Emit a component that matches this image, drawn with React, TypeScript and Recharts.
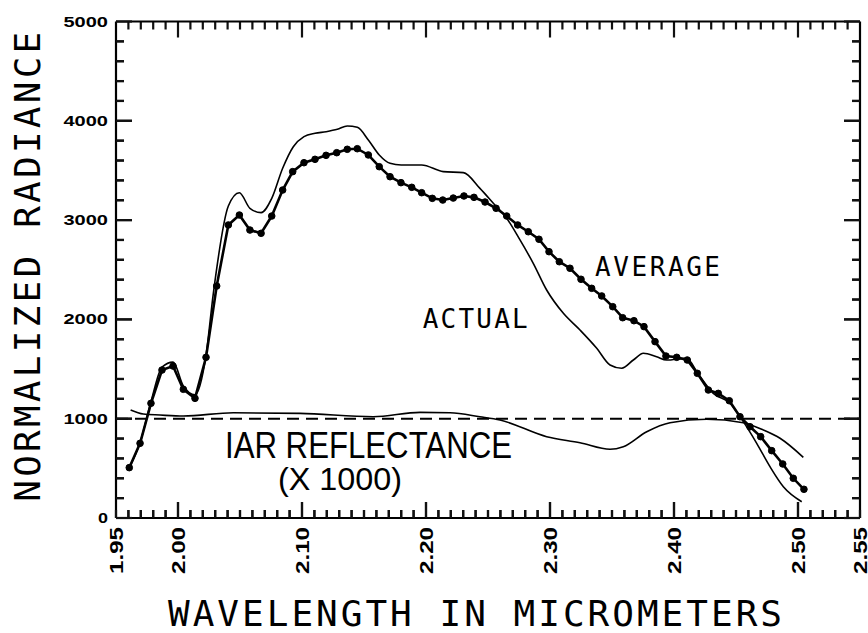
import React from 'react';
import { LineChart, Line, XAxis, YAxis, ReferenceLine } from 'recharts';

// ---- Axis configuration ----
const X_DOMAIN: [number, number] = [1.95, 2.55];
const Y_DOMAIN: [number, number] = [0, 5000];
const X_TICK_LABELS = [1.95, 2.0, 2.1, 2.2, 2.3, 2.4, 2.5, 2.55];
const Y_TICK_LABELS = [0, 1000, 2000, 3000, 4000, 5000];
const X_MINOR_COUNT = 61; // every 0.01 micrometer
const Y_MINOR_COUNT = 26; // every 200

// ---- Series: AVERAGE (with dots) ----
const averageWavelength = [
  1.9607, 1.9694, 1.9782, 1.9871, 1.996, 2.0043, 2.0137, 2.0226, 2.0312, 2.0406,
  2.0495, 2.058, 2.067, 2.0756, 2.0844, 2.0925, 2.1016, 2.1105, 2.1194, 2.128,
  2.1365, 2.1446, 2.1535, 2.1623, 2.171, 2.1798, 2.1885, 2.1965, 2.2051, 2.2135,
  2.222, 2.2306, 2.2387, 2.2476, 2.2565, 2.2651, 2.2739, 2.2825, 2.2911, 2.2992,
  2.3075, 2.3161, 2.325, 2.3336, 2.3417, 2.3506, 2.3586, 2.3677, 2.3758, 2.3847,
  2.3935, 2.4022, 2.4107, 2.4188, 2.4277, 2.4357, 2.4446, 2.4532, 2.4613, 2.4699,
  2.4788, 2.4877, 2.4962, 2.5048,
];
const averageRadiance = [
  507, 752, 1155, 1490, 1530, 1296, 1205, 1618, 2336, 2951,
  3051, 2900, 2867, 3041, 3303, 3488, 3578, 3612, 3652, 3679,
  3713, 3719, 3656, 3538, 3437, 3377, 3330, 3276, 3219, 3202,
  3222, 3243, 3229, 3182, 3119, 3041, 2951, 2883, 2807, 2682,
  2581, 2515, 2404, 2313, 2236, 2128, 2017, 1987, 1927, 1776,
  1631, 1618, 1591, 1457, 1289, 1255, 1181, 1020, 919, 819,
  678, 544, 400, 289,
];

// ---- Series: ACTUAL ----
const actualWavelength = [
  1.9607, 1.9694, 1.9782, 1.9871, 1.996, 2.0043, 2.0137, 2.0226, 2.0285, 2.0406,
  2.0495, 2.058, 2.067, 2.0756, 2.0844, 2.093, 2.1016, 2.1105, 2.1194, 2.1285,
  2.1365, 2.1446, 2.1535, 2.1623, 2.171, 2.18, 2.1965, 2.2139, 2.2301, 2.2435,
  2.2543, 2.2651, 2.2758, 2.2865, 2.2973, 2.3108, 2.3242, 2.3377, 2.3484, 2.3578,
  2.3672, 2.3753, 2.386, 2.394, 2.4102, 2.419, 2.4317, 2.4452, 2.4559, 2.4667,
  2.4774, 2.4882, 2.503,
];
const actualRadiance = [
  507, 760, 1170, 1520, 1570, 1330, 1240, 1640, 2263, 3142,
  3276, 3119, 3075, 3219, 3522, 3739, 3840, 3874, 3890, 3914,
  3948, 3934, 3807, 3656, 3572, 3555, 3555, 3488, 3478, 3320,
  3170, 3018, 2800, 2565, 2296, 2061, 1893, 1709, 1541, 1508,
  1591, 1659, 1624, 1591, 1608, 1460, 1255, 1155, 970, 752,
  517, 315, 164,
];

// ---- Series: IAR REFLECTANCE (x 1000) ----
const reflWavelength = [
  1.9618, 1.972, 1.9855, 2.0043, 2.0446, 2.0984, 2.1575, 2.1952, 2.2194, 2.2435,
  2.2597, 2.2973, 2.3242, 2.3484, 2.3591, 2.378, 2.3968, 2.4263, 2.4559, 2.4721,
  2.4855, 2.5043,
];
const reflValue = [
  1088, 1047, 1037, 1027, 1060, 1054, 1020, 1064, 1060, 1020,
  987, 819, 758, 692, 718, 869, 960, 994, 960, 886,
  803, 611,
];

const REFERENCE_LEVEL = 1000;

// ---- Annotations (anchor = left end of baseline, in data units) ----
const ANNOTATIONS = [
  { text: 'AVERAGE', w: 2.3363, v: 2437, kind: 'mono', size: 26, len: 125 },
  { text: 'ACTUAL', w: 2.1973, v: 1913, kind: 'mono', size: 26, len: 105 },
  { text: 'IAR REFLECTANCE', w: 2.0379, v: 601, kind: 'sans', size: 36, len: 287 },
  { text: '(X 1000)', w: 2.0806, v: 282, kind: 'sans', size: 32, len: 124 },
];

const averageData = averageWavelength.map((w, i) => ({ w, v: averageRadiance[i] }));
const actualData = actualWavelength.map((w, i) => ({ w, v: actualRadiance[i] }));
const reflData = reflWavelength.map((w, i) => ({ w, v: reflValue[i] }));

const xTicks = Array.from({ length: X_MINOR_COUNT }, (_, i) => (195 + i) / 100);
const yTicks = Array.from({ length: Y_MINOR_COUNT }, (_, i) => i * 200);

const MONO = '"DejaVu Sans Mono", monospace';
const SANS = '"Liberation Sans", Arial, sans-serif';

// ---- Layout ----
const W = 868;
const H = 633;
const M_TOP = 20;
const TOP_AXIS_H = 1.5;
const LEFT_AXIS_W = 116;
const RIGHT_AXIS_W = 8;
const BOTTOM_AXIS_H = 115;
const PLOT_LEFT = LEFT_AXIS_W;
const PLOT_RIGHT = W - RIGHT_AXIS_W;
const PLOT_TOP = M_TOP + TOP_AXIS_H;
const PLOT_BOTTOM = H - BOTTOM_AXIS_H;
const toPx = (w: number) =>
  PLOT_LEFT + ((w - X_DOMAIN[0]) / (X_DOMAIN[1] - X_DOMAIN[0])) * (PLOT_RIGHT - PLOT_LEFT);
const toPy = (v: number) =>
  PLOT_BOTTOM - ((v - Y_DOMAIN[0]) / (Y_DOMAIN[1] - Y_DOMAIN[0])) * (PLOT_BOTTOM - PLOT_TOP);

const MAJOR = 16;
const MINOR = 8;
const TW = 2.2; // tick thickness
const TICK_COLOR = '#111';
const AXIS_LINE = { stroke: '#000', strokeWidth: 2.2 };

// tick lengths expressed in data units of the perpendicular axis (for segment ticks)
const X_LEN_MINOR = (MINOR / (PLOT_BOTTOM - PLOT_TOP)) * (Y_DOMAIN[1] - Y_DOMAIN[0]);
const X_LEN_MAJOR = (MAJOR / (PLOT_BOTTOM - PLOT_TOP)) * (Y_DOMAIN[1] - Y_DOMAIN[0]);
const Y_LEN_MINOR = (MINOR / (PLOT_RIGHT - PLOT_LEFT)) * (X_DOMAIN[1] - X_DOMAIN[0]);
const Y_LEN_MAJOR = (MAJOR / (PLOT_RIGHT - PLOT_LEFT)) * (X_DOMAIN[1] - X_DOMAIN[0]);

const isMajorX = (v: number) => Math.round(v * 100) % 10 === 0;
const isMajorY = (v: number) => Math.round(v) % 1000 === 0;
const hasXLabel = (v: number) => X_TICK_LABELS.some((l) => Math.abs(l - v) < 1e-6);
const hasYLabel = (v: number) => Y_TICK_LABELS.some((l) => Math.abs(l - v) < 1e-6);

const renderBottomTick = (props: any) => {
  const x = Number(props.x);
  const y = Number(props.y);
  const v = props.payload.value as number;
  const len = isMajorX(v) ? MAJOR : MINOR;
  return (
    <g key={`b${v}`}>
      <rect x={x - TW / 2} y={y - len} width={TW} height={len} fill={TICK_COLOR} />
      {hasXLabel(v) && (
        <text
          transform={`translate(${x + 6.5},${y + 9}) rotate(-90)`}
          x={-47}
          y={0}
          textAnchor="start"
          textLength={47}
          lengthAdjust="spacingAndGlyphs"
          fontFamily={SANS}
          fontWeight={700}
          fontSize={18}
          fill="#000"
        >
          {v.toFixed(2)}
        </text>
      )}
    </g>
  );
};

const renderTopTick = (props: any) => {
  const x = Number(props.x);
  const y = Number(props.y);
  const v = props.payload.value as number;
  const len = isMajorX(v) ? MAJOR : MINOR;
  return (
    <g key={`t${v}`}>
      <rect x={x - TW / 2} y={y} width={TW} height={len} fill={TICK_COLOR} />
    </g>
  );
};

const renderLeftTick = (props: any) => {
  const x = Number(props.x);
  const y = Number(props.y);
  const v = props.payload.value as number;
  const len = isMajorY(v) ? MAJOR : MINOR;
  const label = String(v);
  const w = 11.5 * label.length - 1.5;
  return (
    <g key={`l${v}`}>
      <rect x={x} y={y - TW / 2} width={len} height={TW} fill={TICK_COLOR} />
      {hasYLabel(v) && (
        <text
          x={x - 8 - w}
          y={y + 5}
          textAnchor="start"
          textLength={w}
          lengthAdjust="spacingAndGlyphs"
          fontFamily={SANS}
          fontWeight={700}
          fontSize={14}
          fill="#000"
        >
          {label}
        </text>
      )}
    </g>
  );
};

const renderRightTick = (props: any) => {
  const x = Number(props.x);
  const y = Number(props.y);
  const v = props.payload.value as number;
  const len = isMajorY(v) ? MAJOR : MINOR;
  return (
    <g key={`r${v}`}>
      <rect x={x - len} y={y - TW / 2} width={len} height={TW} fill={TICK_COLOR} />
    </g>
  );
};

// segment ticks (same marks, drawn through the chart's scales as reference segments)
const innerXTicks = xTicks.filter((v) => v > X_DOMAIN[0] + 1e-6 && v < X_DOMAIN[1] - 1e-6);
const innerYTicks = yTicks.filter((v) => v > Y_DOMAIN[0] && v < Y_DOMAIN[1]);
const tickSegments: { key: string; seg: { x: number; y: number }[] }[] = [];
innerXTicks.forEach((v) => {
  const len = isMajorX(v) ? X_LEN_MAJOR : X_LEN_MINOR;
  tickSegments.push({ key: `xb${v}`, seg: [{ x: v, y: Y_DOMAIN[0] }, { x: v, y: Y_DOMAIN[0] + len }] });
  tickSegments.push({ key: `xt${v}`, seg: [{ x: v, y: Y_DOMAIN[1] }, { x: v, y: Y_DOMAIN[1] - len }] });
});
innerYTicks.forEach((v) => {
  const len = isMajorY(v) ? Y_LEN_MAJOR : Y_LEN_MINOR;
  tickSegments.push({ key: `yl${v}`, seg: [{ x: X_DOMAIN[0], y: v }, { x: X_DOMAIN[0] + len, y: v }] });
  tickSegments.push({ key: `yr${v}`, seg: [{ x: X_DOMAIN[1], y: v }, { x: X_DOMAIN[1] - len, y: v }] });
});

function TextOverlay() {
  const xTitleLen = 614;
  const xTitleCx = (PLOT_LEFT + PLOT_RIGHT) / 2 - 13;
  const yTitleLen = 470;
  const yTitleCy = (PLOT_TOP + PLOT_BOTTOM) / 2 - 3;
  return (
    <svg
      width={W}
      height={H}
      style={{ position: 'absolute', left: 0, top: 0, pointerEvents: 'none' }}
    >
      <text
        x={xTitleCx - xTitleLen / 2}
        y={PLOT_BOTTOM + 108}
        textLength={xTitleLen}
        lengthAdjust="spacing"
        fontFamily={MONO}
        fontSize={36}
        fill="#000"
      >
        WAVELENGTH IN MICROMETERS
      </text>
      <text
        transform={`translate(40,${yTitleCy}) rotate(-90)`}
        x={-yTitleLen / 2}
        y={0}
        textLength={yTitleLen}
        lengthAdjust="spacing"
        fontFamily={MONO}
        fontSize={36}
        fill="#000"
      >
        NORMALIZED RADIANCE
      </text>
      {ANNOTATIONS.map((a) => (
        <text
          key={a.text}
          x={toPx(a.w)}
          y={toPy(a.v)}
          textLength={a.len}
          lengthAdjust={a.kind === 'sans' ? 'spacingAndGlyphs' : 'spacing'}
          fontFamily={a.kind === 'sans' ? SANS : MONO}
          fontSize={a.size}
          fill="#000"
        >
          {a.text}
        </text>
      ))}
    </svg>
  );
}

export default function App() {
  return (
    <div style={{ position: 'absolute', left: 0, top: 0, width: W, height: H, background: '#fff' }}>
      <LineChart width={W} height={H} margin={{ top: M_TOP, right: 0, bottom: 0, left: 0 }}>
        <XAxis
          xAxisId="b"
          type="number"
          dataKey="w"
          domain={X_DOMAIN}
          allowDataOverflow
          ticks={xTicks}
          interval={0}
          tickSize={0}
          tickMargin={0}
          tickLine={false}
          tick={renderBottomTick}
          axisLine={AXIS_LINE}
          height={BOTTOM_AXIS_H}
        />
        <XAxis
          xAxisId="t"
          orientation="top"
          type="number"
          domain={X_DOMAIN}
          allowDataOverflow
          ticks={xTicks}
          interval={0}
          tickSize={0}
          tickMargin={0}
          tickLine={false}
          tick={renderTopTick}
          axisLine={AXIS_LINE}
          height={TOP_AXIS_H}
        />
        <YAxis
          yAxisId="l"
          type="number"
          domain={Y_DOMAIN}
          allowDataOverflow
          ticks={yTicks}
          interval={0}
          tickSize={0}
          tickMargin={0}
          tickLine={false}
          tick={renderLeftTick}
          axisLine={AXIS_LINE}
          width={LEFT_AXIS_W}
        />
        <YAxis
          yAxisId="r"
          orientation="right"
          type="number"
          domain={Y_DOMAIN}
          allowDataOverflow
          ticks={yTicks}
          interval={0}
          tickSize={0}
          tickMargin={0}
          tickLine={false}
          tick={renderRightTick}
          axisLine={AXIS_LINE}
          width={RIGHT_AXIS_W}
        />
        {tickSegments.map((t) => (
          <ReferenceLine
            key={t.key}
            xAxisId="b"
            yAxisId="l"
            segment={t.seg}
            stroke={TICK_COLOR}
            strokeWidth={TW}
          />
        ))}
        <ReferenceLine
          xAxisId="b"
          yAxisId="l"
          y={REFERENCE_LEVEL}
          stroke="#000"
          strokeWidth={2}
          strokeDasharray="12 7"
        />
        <Line
          xAxisId="b"
          yAxisId="l"
          data={reflData}
          dataKey="v"
          type="monotone"
          stroke="#000"
          strokeWidth={1.6}
          dot={false}
          activeDot={false}
          isAnimationActive={false}
        />
        <Line
          xAxisId="b"
          yAxisId="l"
          data={actualData}
          dataKey="v"
          type="monotone"
          stroke="#000"
          strokeWidth={1.6}
          dot={false}
          activeDot={false}
          isAnimationActive={false}
        />
        <Line
          xAxisId="b"
          yAxisId="l"
          data={averageData}
          dataKey="v"
          type="linear"
          stroke="#000"
          strokeWidth={2.6}
          dot={{ r: 3.3, fill: '#000', stroke: '#000', strokeWidth: 1 }}
          activeDot={false}
          isAnimationActive={false}
        />
      </LineChart>
      <TextOverlay />
    </div>
  );
}
